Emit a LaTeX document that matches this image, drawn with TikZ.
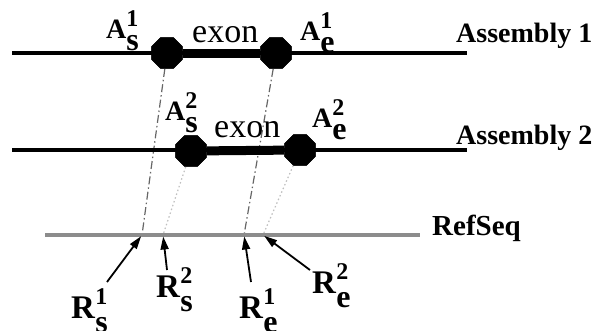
\documentclass[tikz,border=0pt]{standalone}
\usepackage{fontspec}
\setmainfont{Liberation Serif}
\usepackage{tikz}
\usetikzlibrary{arrows.meta,positioning,shapes.geometric}

\newcommand{\sublab}[3]{\textbf{#1}\rlap{\raisebox{.42em}{\fontsize{24}{24}\selectfont\textbf{#2}}}\raisebox{-.45em}{\fontsize{32}{32}\selectfont\textbf{#3}}}

\begin{document}
\begin{tikzpicture}[x=1pt,y=-1pt,
		site/.style={regular polygon,regular polygon sides=8,fill=black,inner sep=0pt,minimum size=34pt},
		lab/.style={anchor=base west,inner sep=0pt},
		chain/.style={line width=4pt},
		exonline/.style={line width=9pt},
		refline/.style={line width=4pt,black!45},
		mapone/.style={black!60,line width=1.2pt,dash pattern=on 8pt off 3pt on 1.5pt off 3pt},
		maptwo/.style={black!25,line width=1.2pt,dash pattern=on 1.5pt off 2.5pt},
		ptr/.style={line width=1.8pt,-{Triangle[length=13pt,width=8pt]},shorten >=1.5pt}]
		\useasboundingbox (0,0) rectangle (597,330);

		% the three sequences
		\coordinate (a1l) at (12,53);
		\coordinate (a1r) at (467,53);
		\coordinate (a2l) at (12,150);
		\coordinate (a2r) at (467,150);
		\coordinate (refl) at (45,235);
		\coordinate (refr) at (420,235);

		\node[site] (as1) at (167,53) {};
		\node[site] (ae1) at (276,53) {};
		\node[site] (as2) at (191,151) {};
		\node[site] (ae2) at (300,150) {};

		\coordinate (rs1) at (142,235);
		\coordinate (rs2) at (163,235);
		\coordinate (re1) at (244,235);
		\coordinate (re2) at (263,235);

		\draw[mapone] (as1) -- (rs1);
		\draw[mapone] (ae1) -- (re1);
		\draw[maptwo] (as2) -- (rs2);
		\draw[maptwo] (ae2) -- (re2);

		\draw[chain] (a1l) -- (a1r);
		\draw[chain] (a2l) -- (a2r);
		\draw[refline] (refl) -- (refr);
		\draw[exonline] (as1) -- (ae1);
		\draw[exonline] (as2) -- (ae2);
		\node[site] at (as1) {};
		\node[site] at (ae1) {};
		\node[site] at (as2) {};
		\node[site] at (ae2) {};

		% labels
		\node[lab,font=\fontsize{28}{28}\selectfont] (las1) at (106,38) {\sublab{A}{1}{s}};
		\node[lab,font=\fontsize{28}{28}\selectfont] (lae1) at (300,40) {\sublab{A}{1}{e}};
		\node[lab,font=\fontsize{28}{28}\selectfont] (las2) at (165,120) {\sublab{A}{2}{s}};
		\node[lab,font=\fontsize{28}{28}\selectfont] (lae2) at (312,127) {\sublab{A}{2}{e}};
		\node[lab,font=\fontsize{34}{34}\selectfont] (ex1) at (192,42) {exon};
		\node[lab,font=\fontsize{34}{34}\selectfont] (ex2) at (214,137) {exon};
		\node[lab,font=\fontsize{28}{28}\selectfont\bfseries] (asm1) at (456,42) {Assembly 1};
		\node[lab,font=\fontsize{28}{28}\selectfont\bfseries] (asm2) at (456,144) {Assembly 2};
		\node[lab,font=\fontsize{29}{29}\selectfont\bfseries] (ref) at (432,235) {RefSeq};

		\node[lab,font=\fontsize{33}{33}\selectfont] (lrs1) at (71,318) {\sublab{R}{1}{s}};
		\node[lab,font=\fontsize{33}{33}\selectfont] (lrs2) at (156,297) {\sublab{R}{2}{s}};
		\node[lab,font=\fontsize{33}{33}\selectfont] (lre1) at (239,318) {\sublab{R}{1}{e}};
		\node[lab,font=\fontsize{33}{33}\selectfont] (lre2) at (312,293) {\sublab{R}{2}{e}};

		\coordinate (ts1) at (107,282);
		\coordinate (ts2) at (167,270);
		\coordinate (te1) at (251,282);
		\coordinate (te2) at (310,270);
		\draw[ptr] (ts1) -- (rs1);
		\draw[ptr] (ts2) -- (rs2);
		\draw[ptr] (te1) -- (re1);
		\draw[ptr] (te2) -- (re2);
	\end{tikzpicture}
\end{document}
